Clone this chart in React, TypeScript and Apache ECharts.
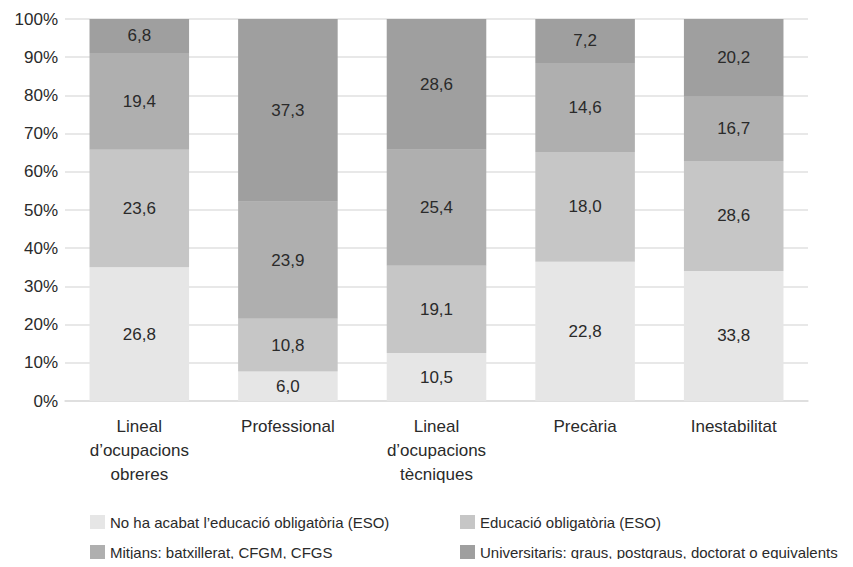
import React, { useEffect, useRef } from "react";
import * as echarts from "echarts";

const categories = [
  "Lineal\nd’ocupacions\nobreres",
  "Professional",
  "Lineal\nd’ocupacions\ntècniques",
  "Precària",
  "Inestabilitat",
];
const seriesNames = [
  "No ha acabat l’educació obligatòria (ESO)",
  "Educació obligatòria (ESO)",
  "Mitjans: batxillerat, CFGM, CFGS",
  "Universitaris: graus, postgraus, doctorat o equivalents",
];
const noEso = [26.8, 6.0, 10.5, 22.8, 33.8];
const eso = [23.6, 10.8, 19.1, 18.0, 28.6];
const mitjans = [19.4, 23.9, 25.4, 14.6, 16.7];
const universitaris = [6.8, 37.3, 28.6, 7.2, 20.2];
const yTicks = [0, 10, 20, 30, 40, 50, 60, 70, 80, 90, 100];

const colors = ["#e6e6e6", "#c6c6c6", "#afafaf", "#9f9f9f"];
const FONT = "Liberation Sans";
const TEXT = "#2a2a2a";

export default function App() {
  const ref = useRef<HTMLDivElement>(null);
  useEffect(() => {
    if (!ref.current) return;
    const chart = echarts.init(ref.current, null, { renderer: "svg" });
    const raw = [noEso, eso, mitjans, universitaris];
    const totals = categories.map((_, i) => raw.reduce((s, arr) => s + arr[i], 0));
    const series = raw.map((arr, si) => ({
      name: seriesNames[si],
      type: "bar",
      stack: "total",
      barWidth: "67%",
      itemStyle: { color: colors[si] },
      data: arr.map((v, i) => (v / totals[i]) * 100),
      label: {
        show: true,
        position: "inside",
        color: TEXT,
        fontFamily: FONT,
        fontSize: 17,
        formatter: (p: any) => arr[p.dataIndex].toFixed(1).replace(".", ","),
      },
    }));
    const legendBase = {
      orient: "vertical",
      top: 514,
      padding: 0,
      itemWidth: 15,
      itemHeight: 14,
      itemGap: 14,
      icon: "rect",
      textStyle: {
        fontFamily: FONT,
        fontSize: 15,
        color: TEXT,
        lineHeight: 16,
      },
    };
    chart.setOption({
      animation: false,
      grid: { left: 65, right: 45, top: 19, bottom: 166 },
      legend: [
        { ...legendBase, data: [seriesNames[0], seriesNames[2]], left: 90 },
        { ...legendBase, data: [seriesNames[1], seriesNames[3]], left: 460 },
      ],
      xAxis: {
        type: "category",
        data: categories,
        axisLine: { lineStyle: { color: "#dcdcdc", width: 1.5 } },
        axisTick: { show: false },
        axisLabel: {
          color: TEXT,
          fontFamily: FONT,
          fontSize: 17,
          lineHeight: 24,
          margin: 13,
          interval: 0,
        },
      },
      yAxis: {
        type: "value",
        min: yTicks[0],
        max: yTicks[yTicks.length - 1],
        interval: 10,
        axisLine: { show: false },
        axisTick: { show: false },
        splitLine: { lineStyle: { color: "#e0e0e0", width: 1.5 } },
        axisLabel: {
          color: TEXT,
          fontFamily: FONT,
          fontSize: 17,
          margin: 7,
          formatter: "{value}%",
        },
      },
      series,
    });
    return () => chart.dispose();
  }, []);
  return <div ref={ref} style={{ width: 853, height: 567, margin: -8 }} />;
}
